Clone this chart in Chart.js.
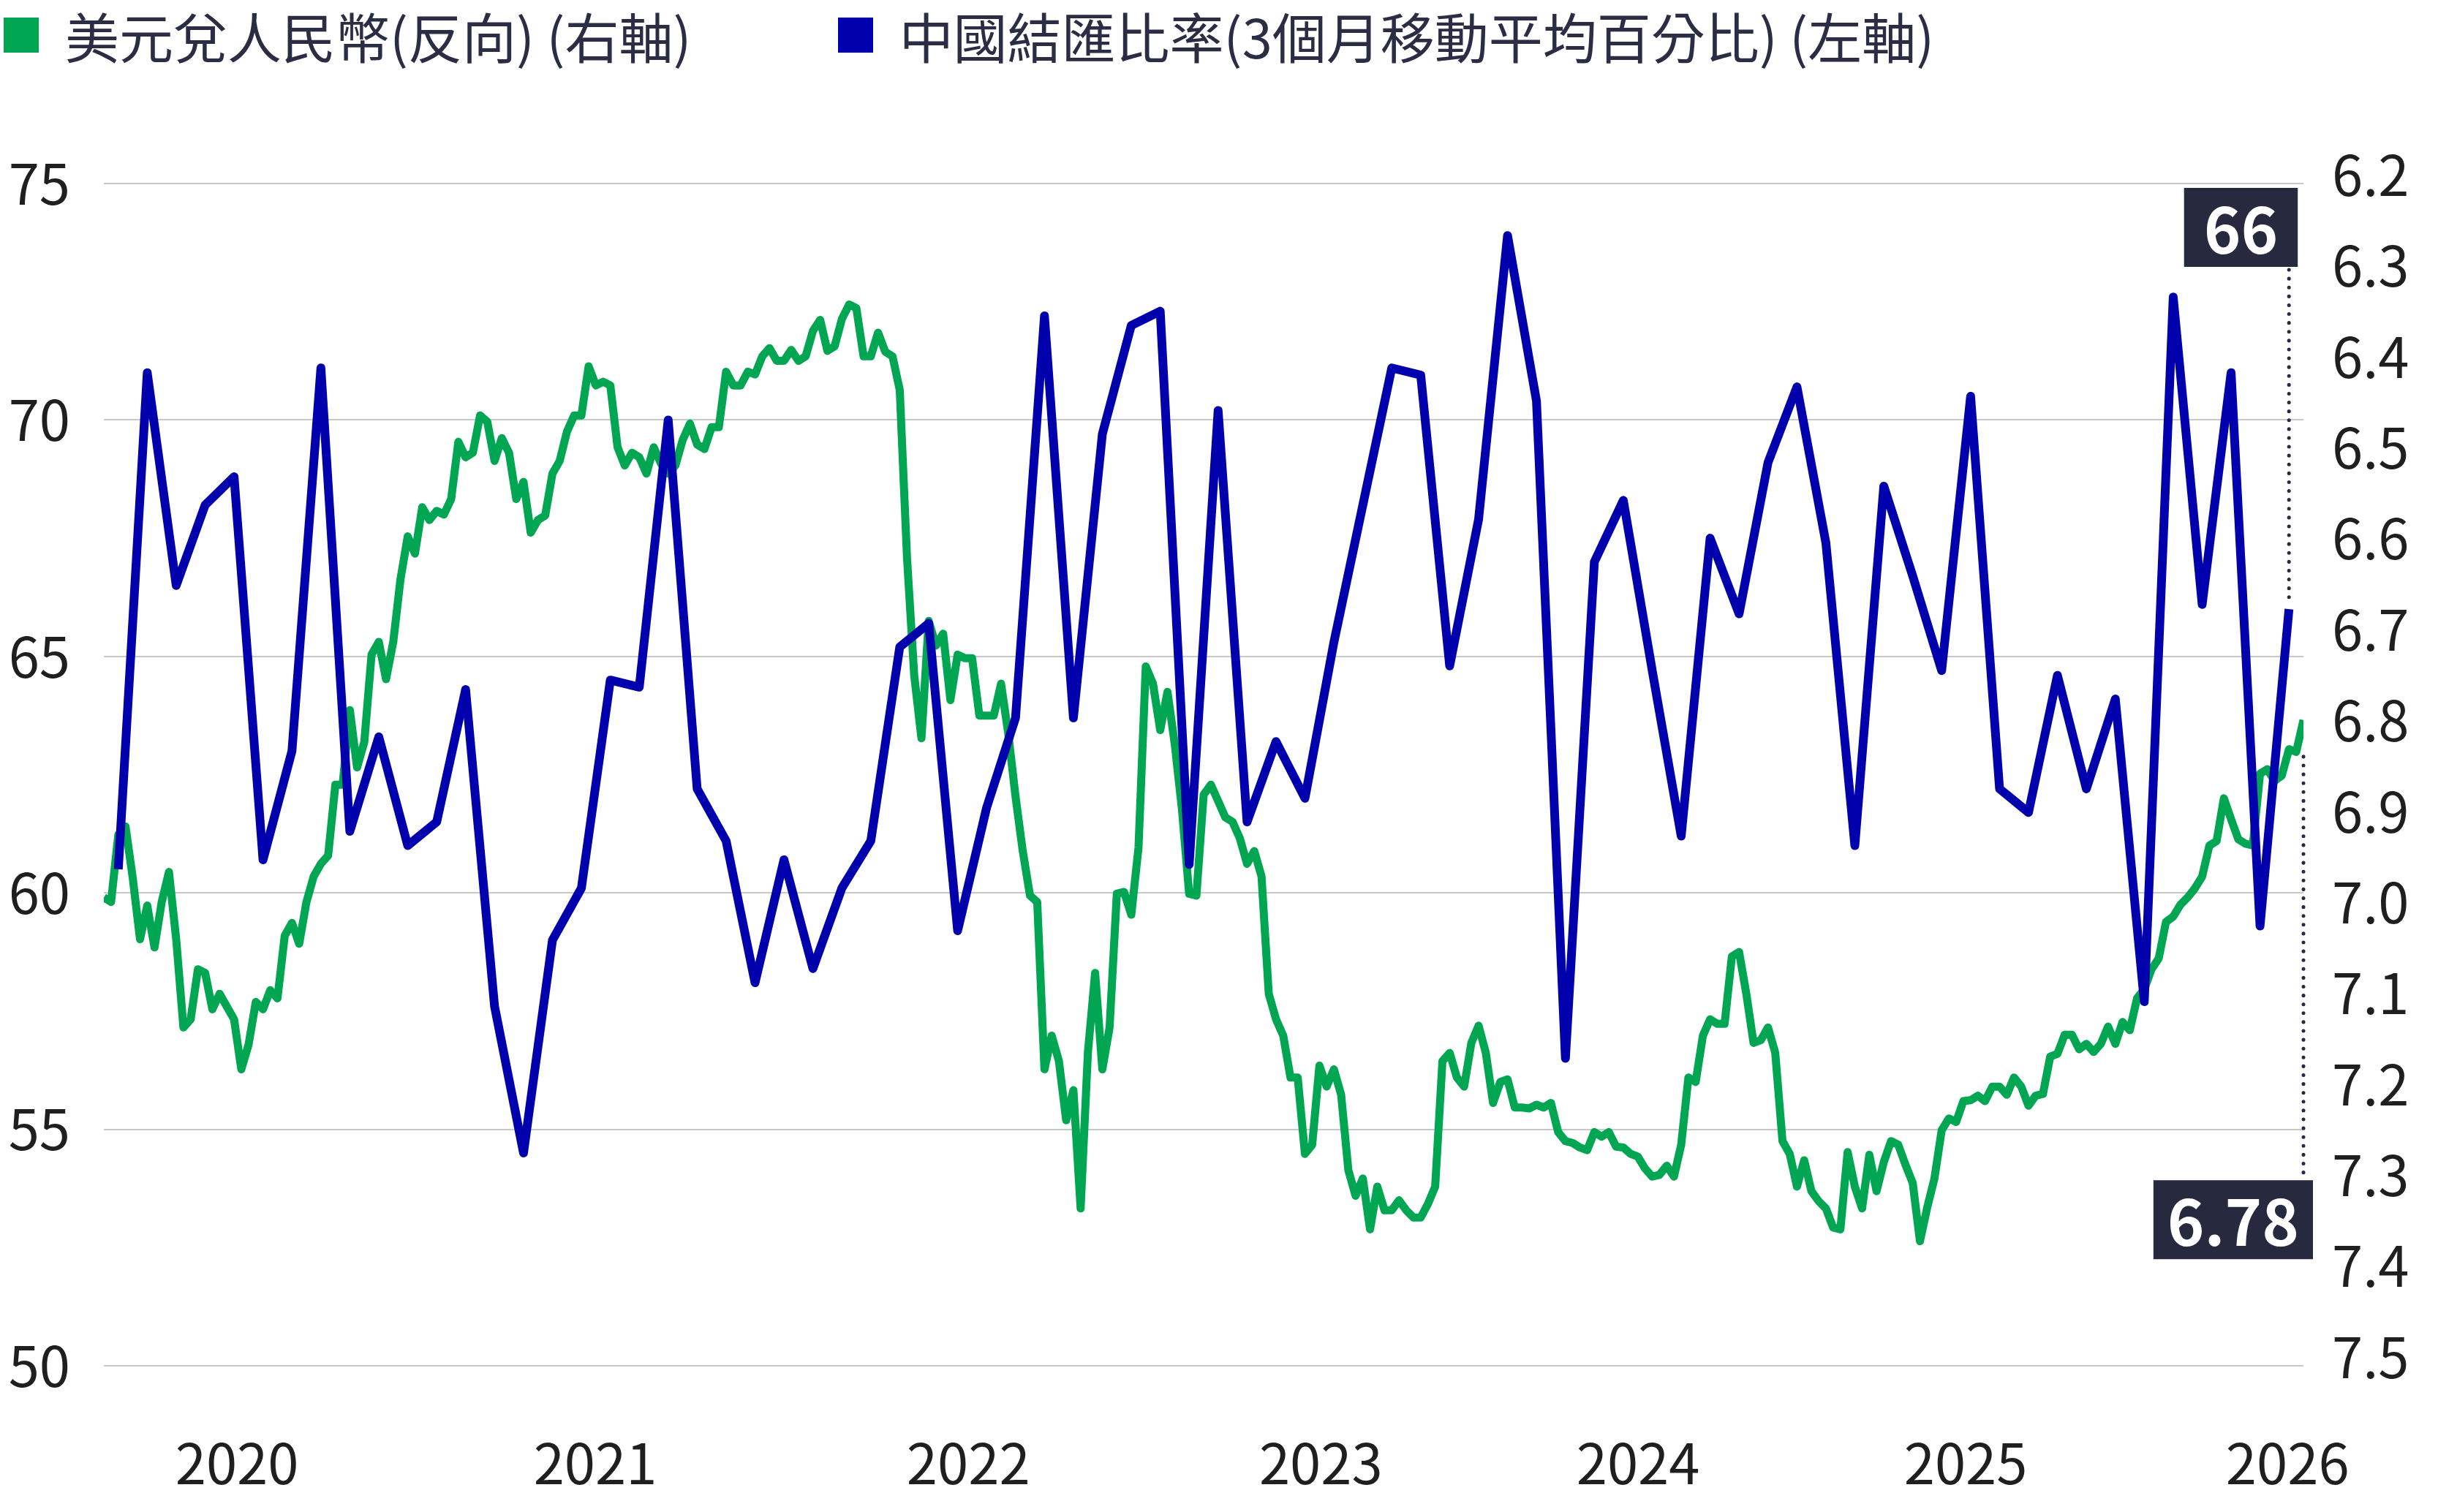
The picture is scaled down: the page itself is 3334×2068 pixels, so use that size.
<!DOCTYPE html>
<html lang="zh-Hant">
<head>
<meta charset="utf-8">
<title>中國結匯比率 vs 美元兌人民幣</title>
<script src="https://cdn.jsdelivr.net/npm/chart.js@4.4.1/dist/chart.umd.min.js"></script>
<style>
  html,body{margin:0;padding:0;background:#fff;}
  #wrap{position:relative;width:3334px;height:2068px;}
  #legend{position:absolute;left:5px;top:11px;display:flex;align-items:center;
    font:74px/1 "Noto Sans CJK TC","Noto Sans",sans-serif;color:#2a2d43;white-space:nowrap;}
  .item{display:flex;align-items:center;}
  .sw{width:48px;height:48px;margin-right:36px;}
  .item + .item{margin-left:200px;}
</style>
</head>
<body>
<div id="wrap">
  <canvas id="c" width="3334" height="2068"></canvas>
  <div id="legend"></div>
</div>
<script>
// --- data ---
const seriesNames = ["美元兌人民幣(反向) (右軸)", "中國結匯比率(3個月移動平均百分比) (左軸)"];
const seriesColors = ["#00a651", "#0000ad"];

// settlement ratio, 3m avg %, one value per month (x = month index)
const blueSeries = [
  60.5, 71.0, 66.5, 68.2, 68.8, 60.7, 63.0, 71.1, 61.3, 63.3,
  61.0, 61.5, 64.3, 57.6, 54.5, 59.0, 60.1, 64.5, 64.35, 70.0,
  62.2, 61.1, 58.1, 60.7, 58.4, 60.1, 61.1, 65.2, 65.7, 59.2,
  61.8, 63.7, 72.2, 63.7, 69.7, 72.0, 72.3, 60.6, 70.2, 61.5,
  63.2, 62.0, 65.3, 68.2, 71.1, 70.95, 64.8, 67.9, 73.9, 70.4,
  56.5, 67.0, 68.3, 64.7, 61.2, 67.5, 65.9, 69.1, 70.7, 67.4,
  61.0, 68.6, 66.7, 64.7, 70.5, 62.2, 61.7, 64.6, 62.2, 64.1,
  57.7, 72.6, 66.1, 71.0, 59.3, 66.0
];

// USD/CNY, sampled every quarter month starting half a month before the first blue point
const greenStart = -0.5, greenStep = 0.25;
const greenSeries = [
  6.985, 6.990,
  6.916, 6.907, 6.964, 7.031,  6.994, 7.040, 6.990, 6.957,
  7.031, 7.128, 7.119, 7.064,  7.068, 7.108, 7.091, 7.105,
  7.119, 7.174, 7.147, 7.100,  7.108, 7.087, 7.096, 7.027,
  7.013, 7.036, 6.990, 6.962,  6.948, 6.939, 6.861, 6.861,
  6.779, 6.842, 6.814, 6.718,  6.704, 6.745, 6.704, 6.635,
  6.588, 6.607, 6.556, 6.570,  6.560, 6.564, 6.547, 6.484,
  6.501, 6.496, 6.455, 6.462,  6.505, 6.480, 6.496, 6.547,
  6.528, 6.584, 6.570, 6.565,  6.519, 6.505, 6.473, 6.455,
  6.455, 6.401, 6.422, 6.418,  6.422, 6.490, 6.510, 6.496,
  6.501, 6.519, 6.490, 6.508,  6.519, 6.510, 6.482, 6.464,
  6.487, 6.492, 6.468, 6.468,  6.407, 6.422, 6.422, 6.407,
  6.410, 6.390, 6.381, 6.395,  6.395, 6.383, 6.395, 6.390,
  6.362, 6.350, 6.384, 6.379,  6.349, 6.333, 6.337, 6.390,
  6.390, 6.364, 6.385, 6.390,  6.427, 6.611, 6.741, 6.810,
  6.681, 6.708, 6.695, 6.768,  6.718, 6.722, 6.722, 6.785,
  6.785, 6.785, 6.750, 6.805,  6.874, 6.934, 6.983, 6.990,
  7.174, 7.137, 7.165, 7.230,  7.197, 7.327, 7.156, 7.068,
  7.174, 7.128, 6.981, 6.979,  7.004, 6.930, 6.731, 6.750,
  6.801, 6.759, 6.816, 6.888,  6.981, 6.983, 6.872, 6.861,
  6.879, 6.897, 6.902, 6.920,  6.948, 6.934, 6.962, 7.091,
  7.119, 7.137, 7.183, 7.183,  7.267, 7.257, 7.170, 7.193,
  7.174, 7.202, 7.285, 7.313,  7.294, 7.350, 7.303, 7.329,
  7.329, 7.318, 7.329, 7.337,  7.337, 7.322, 7.303, 7.165,
  7.156, 7.183, 7.193, 7.145,  7.126, 7.156, 7.211, 7.188,
  7.185, 7.216, 7.216, 7.217,  7.213, 7.216, 7.211, 7.243,
  7.253, 7.255, 7.260, 7.263,  7.243, 7.248, 7.243, 7.259,
  7.260, 7.267, 7.270, 7.283,  7.292, 7.290, 7.280, 7.292,
  7.257, 7.183, 7.188, 7.137,  7.119, 7.124, 7.124, 7.050,
  7.045, 7.091, 7.145, 7.142,  7.128, 7.156, 7.253, 7.267,
  7.303, 7.274, 7.308, 7.319,  7.327, 7.348, 7.350, 7.265,
  7.303, 7.327, 7.268, 7.308,  7.276, 7.253, 7.257, 7.279,
  7.299, 7.363, 7.326, 7.294,  7.241, 7.228, 7.232, 7.209,
  7.208, 7.203, 7.209, 7.193,  7.193, 7.202, 7.183, 7.193,
  7.214, 7.203, 7.201, 7.160,  7.157, 7.136, 7.136, 7.152,
  7.146, 7.155, 7.146, 7.127,  7.146, 7.122, 7.131, 7.096,
  7.086, 7.064, 7.052, 7.012,  7.006, 6.993, 6.985, 6.975,
  6.962, 6.928, 6.923, 6.876,  6.899, 6.921, 6.926, 6.928,
  6.849, 6.844, 6.857, 6.851,  6.822, 6.825, 6.790
];

const yearLabels = ["2020", "2021", "2022", "2023", "2024", "2025", "2026"];
const yearTickAt = [4.1, 16.48, 29.37, 41.55, 52.51, 63.83, 74.95];
const leftTicks = [50, 55, 60, 65, 70, 75];
const rightTicks = [6.2, 6.3, 6.4, 6.5, 6.6, 6.7, 6.8, 6.9, 7.0, 7.1, 7.2, 7.3, 7.4, 7.5];
const endLabels = ["66", "6.78"];

// legend (html, real text)
const legend = document.getElementById("legend");
seriesNames.forEach((name, i) => {
  const it = document.createElement("div"); it.className = "item";
  it.innerHTML = `<span class="sw" style="background:${seriesColors[i]}"></span><span>${name}</span>`;
  legend.appendChild(it);
});

const FONT = '"Noto Sans CJK TC", "Noto Sans", sans-serif';
Chart.defaults.font.family = FONT;
Chart.defaults.color = "#1f1f1f";

// boxes with the latest values + dotted leaders
const endTags = {
  id: "endTags",
  afterDatasetsDraw(chart) {
    const { ctx, chartArea } = chart;
    const bm = chart.getDatasetMeta(0).data, gm = chart.getDatasetMeta(1).data;
    const bp = bm[bm.length - 1], gp = gm[gm.length - 1];
    ctx.save();
    ctx.font = "bold 86px " + FONT;
    const tag = (text, right, top, padX) => {
      const w = ctx.measureText(text).width + padX * 2, h = 108;
      ctx.fillStyle = "#272a3f";
      ctx.fillRect(right - w, top, w, h);
      ctx.fillStyle = "#fff";
      ctx.textAlign = "center"; ctx.textBaseline = "middle";
      ctx.fillText(text, right - w / 2, top + h / 2 + 3);
      return { top, bottom: top + h };
    };
    const dots = (x, y1, y2) => {
      ctx.beginPath();
      ctx.strokeStyle = "#272a3f"; ctx.lineWidth = 5; ctx.lineCap = "round";
      ctx.setLineDash([0.1, 12]);
      ctx.moveTo(x, y1); ctx.lineTo(x, y2); ctx.stroke();
      ctx.setLineDash([]);
    };
    const t1 = tag(endLabels[0], bp.x + 12, chartArea.top + 6, 27);
    dots(bp.x, t1.bottom + 4, bp.y - 16);
    const t2 = tag(endLabels[1], gp.x + 13, chart.scales.yR.getPixelForValue(7.3) - 5, 19);
    dots(gp.x, gp.y + 50, t2.top - 4);
    ctx.restore();
  }
};

const tickFont = { size: 76 };

new Chart(document.getElementById("c"), {
  type: "line",
  data: {
    datasets: [
      {
        label: seriesNames[1],
        data: blueSeries.map((v, i) => ({ x: i, y: v })),
        yAxisID: "yL",
        borderColor: seriesColors[1],
        borderWidth: 12,
        borderJoinStyle: "round",
        pointRadius: 0,
        tension: 0
      },
      {
        label: seriesNames[0],
        data: greenSeries.map((v, i) => ({ x: greenStart + i * greenStep, y: v })),
        yAxisID: "yR",
        borderColor: seriesColors[0],
        borderWidth: 11,
        borderJoinStyle: "round",
        pointRadius: 0,
        tension: 0
      }
    ]
  },
  options: {
    responsive: false,
    animation: false,
    devicePixelRatio: 1,
    layout: { padding: { top: 251, left: 0, right: 0, bottom: 0 } },
    plugins: { legend: { display: false }, tooltip: { enabled: false } },
    scales: {
      x: {
        type: "linear", min: -0.5, max: 75.5,
        grid: { display: false }, border: { display: false },
        afterBuildTicks: s => { s.ticks = yearTickAt.map(v => ({ value: v })); },
        afterFit: s => { s.height = 200; },
        ticks: { font: tickFont, padding: 80, autoSkip: false, maxRotation: 0,
                 callback: (v, i) => yearLabels[i] }
      },
      yL: {
        position: "left", min: 50, max: 75,
        grid: { color: "#c8c8c8", lineWidth: 2, drawTicks: false }, border: { display: false },
        afterBuildTicks: s => { s.ticks = leftTicks.map(v => ({ value: v })); },
        afterFit: s => { s.width = 142; },
        ticks: { font: tickFont, padding: 46 }
      },
      yR: {
        position: "right", reverse: true, min: 6.2, max: 7.5,
        grid: { display: false, drawTicks: false }, border: { display: false },
        afterBuildTicks: s => { s.ticks = rightTicks.map(v => ({ value: v })); },
        afterFit: s => { s.width = 184; },
        ticks: { font: tickFont, padding: 39, labelOffset: -12, callback: v => v.toFixed(1) }
      }
    }
  },
  plugins: [endTags]
});
</script>
</body>
</html>
